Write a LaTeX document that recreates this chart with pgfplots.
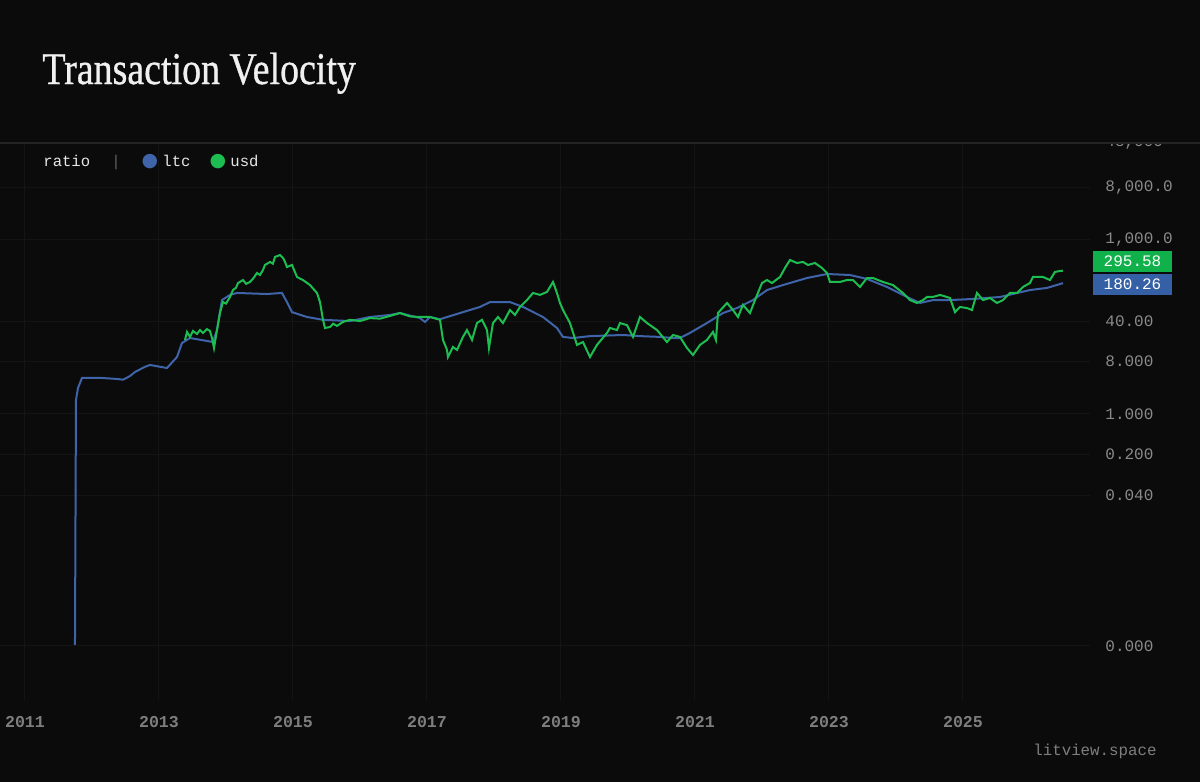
\documentclass[border=0pt]{standalone}
\usepackage{pgfplots}
\pgfplotsset{compat=1.18}
\usepackage{graphicx}
\usepackage{fontspec}
\setmainfont{Liberation Serif}
\newfontfamily\titlefont{Liberation Serif}[FakeBold=0.8]
\newfontfamily\mono{Liberation Mono}
\newfontfamily\dejavu{DejaVu Sans}
\definecolor{bg}{HTML}{0B0B0B}
\definecolor{gridc}{HTML}{141414}
\definecolor{topline}{HTML}{242424}
\definecolor{ltc}{HTML}{3F64A9}
\definecolor{usd}{HTML}{1DBE51}
\definecolor{gbox}{HTML}{10B14A}
\definecolor{bbox}{HTML}{3560A6}
\definecolor{ylab}{HTML}{8A8A8A}
\definecolor{xlab}{HTML}{7E7E7E}
\definecolor{titlec}{HTML}{F0F0F0}
\definecolor{legc}{HTML}{E6E6E6}
\begin{document}
\begin{tikzpicture}
\begin{scope}[x=0.5pt,y=-0.5pt]
\fill[bg] (0,0) rectangle (1200,782);
\end{scope}
\begin{axis}[
  at={(0pt,-71.1pt)}, anchor=north west,
  scale only axis, width=545pt, height=278.9pt,
  xmin=2010.627, xmax=2026.896,
  ymode=log, ymin=1.17e-5, ymax=48500,
  axis line style={draw=none},
  major tick length=0pt,
  tick style={draw=none},
  xtick={2011,2013,2015,2017,2019,2021,2023,2025},
  xticklabels={2011,2013,2015,2017,2019,2021,2023,2025},
  ytick={48000,8000,1000,40,8,1,0.2,0.04,0.0001},
  yticklabels={{48,000},{8,000.0},{1,000.0},{40.00},{8.000},{1.000},{0.200},{0.040},{0.000}},
  yticklabel pos=right,
  grid=major,
  major grid style={color=gridc, line width=0.5pt},
  xticklabel style={font=\mono\bfseries\fontsize{8.3}{10}\selectfont, text=xlab, anchor=base, inner sep=0pt, yshift=-13.5pt},
  yticklabel style={font=\mono\fontsize{8}{10}\selectfont, text=ylab, anchor=west, inner sep=0pt, xshift=7.5pt},
]
\addplot[color=ltc, line width=1pt] table {
2011.746 0.000104
2011.761 1.74
2011.791 2.8
2011.851 4.2
2012.119 4.2
2012.388 4.0
2012.463 3.9
2012.567 4.5
2012.642 5.3
2012.791 6.5
2012.866 7.0
2013.119 6.2
2013.269 9.6
2013.343 16.7
2013.463 20.4
2013.806 17.4
2013.866 28
2013.940 92
2014.060 113
2014.164 122
2014.612 117
2014.836 122
2014.910 85
2014.985 57
2015.209 47
2015.448 42
2015.851 40
2016.149 47
2016.448 51
2016.597 55
2016.896 45
2016.970 38.6
2017.045 47
2017.194 43
2017.493 55
2017.791 70
2017.940 85
2018.239 85
2018.433 70
2018.731 47
2018.940 30.4
2019.030 21.3
2019.179 20.4
2019.433 22
2019.925 23
2020.179 22
2020.478 21.3
2020.672 20.4
2020.776 20.4
2020.925 25
2021.179 37
2021.418 55
2021.627 67
2021.866 92
2022.075 137
2022.313 167
2022.672 221
2022.970 259
2023.313 249
2023.567 213
2023.866 155
2024.164 104
2024.358 82
2024.552 92
2024.806 92
2025.134 96
2025.552 104
2026.000 137
2026.254 149
2026.493 180.26
};
\addplot[color=usd, line width=1pt] table {
2013.388 18.9
2013.418 26
2013.463 21.3
2013.507 27
2013.567 24
2013.612 28
2013.657 25
2013.716 29
2013.761 27
2013.791 20.4
2013.821 13.7
2013.866 28
2013.910 55
2013.955 85
2014.000 80
2014.060 104
2014.104 137
2014.150 150
2014.179 181
2014.254 204
2014.300 175
2014.358 189
2014.410 220
2014.463 270
2014.507 249
2014.550 300
2014.582 371
2014.657 418
2014.700 390
2014.731 509
2014.806 551
2014.851 490
2014.880 420
2014.910 342
2014.985 371
2015.060 230
2015.149 204
2015.254 167
2015.358 122
2015.403 85
2015.448 42
2015.478 30.4
2015.552 31.6
2015.600 36
2015.657 33
2015.746 38.6
2015.851 42
2016.000 40
2016.149 45
2016.300 44
2016.448 49
2016.597 55
2016.750 48
2016.896 47
2017.045 47
2017.194 42
2017.239 18.9
2017.299 12.7
2017.313 9.6
2017.388 14.3
2017.448 12.7
2017.537 21.3
2017.597 28
2017.672 18.9
2017.746 37
2017.821 42
2017.896 28
2017.925 13.7
2017.985 37
2018.060 47
2018.134 37
2018.239 62
2018.313 51
2018.388 70
2018.493 92
2018.582 122
2018.687 113
2018.791 127
2018.881 189
2018.940 122
2018.985 82
2019.030 62
2019.134 37
2019.239 15.5
2019.328 17.4
2019.433 9.6
2019.537 15.5
2019.687 25
2019.731 30.4
2019.836 28
2019.881 37
2019.985 34
2020.075 21.3
2020.179 47
2020.284 37
2020.433 28
2020.582 17.4
2020.672 23
2020.776 21.3
2020.881 13.7
2020.970 10.4
2021.075 15.5
2021.179 18.9
2021.269 26
2021.313 18.9
2021.343 55
2021.478 82
2021.567 62
2021.642 47
2021.716 76
2021.821 55
2021.896 92
2022.000 181
2022.075 204
2022.149 181
2022.269 230
2022.343 329
2022.418 452
2022.522 401
2022.612 418
2022.687 371
2022.791 401
2022.896 329
2022.970 270
2023.015 189
2023.164 189
2023.269 204
2023.358 204
2023.463 155
2023.567 221
2023.657 221
2023.806 189
2023.955 167
2024.104 122
2024.209 92
2024.313 82
2024.403 92
2024.463 104
2024.552 104
2024.657 113
2024.806 100
2024.881 57
2024.955 70
2025.060 67
2025.134 62
2025.209 122
2025.299 92
2025.403 100
2025.507 82
2025.597 92
2025.701 122
2025.806 122
2025.896 155
2026.000 181
2026.045 230
2026.194 230
2026.299 204
2026.373 281
2026.448 292
2026.493 295.58
};
\end{axis}
\begin{scope}[x=0.5pt,y=-0.5pt]
\fill[bg] (0,0) rectangle (1200,142.4);
\draw[topline, line width=0.6pt] (0,143) -- (1200,143);
\node[anchor=base west, inner sep=0pt, text=titlec] at (42,84)
  {\scalebox{0.835}[1]{\titlefont\fontsize{22.7}{24}\selectfont Transaction Velocity}};
\node[anchor=base west, inner sep=0pt, text=legc, font=\mono\fontsize{7.8}{9}\selectfont] at (43,166) {ratio};
\node[anchor=base, inner sep=0pt, text=ylab!70!black, font=\mono\fontsize{7.8}{9}\selectfont] at (116,166) {|};
\node[inner sep=0pt, text=ltc, font=\dejavu\fontsize{9.5}{10}\selectfont] at (150,162) {●};
\node[anchor=base west, inner sep=0pt, text=legc, font=\mono\fontsize{7.8}{9}\selectfont] at (162,166) {ltc};
\node[inner sep=0pt, text=usd, font=\dejavu\fontsize{9.5}{10}\selectfont] at (218,162) {●};
\node[anchor=base west, inner sep=0pt, text=legc, font=\mono\fontsize{7.8}{9}\selectfont] at (230,166) {usd};
\node[fill=gbox, text=white, minimum width=39.5pt, minimum height=10.5pt, inner sep=0pt, font=\mono\fontsize{8}{10}\selectfont] at (1132.5,261.5) {295.58};
\node[fill=bbox, text=white, minimum width=39.5pt, minimum height=10.5pt, inner sep=0pt, font=\mono\fontsize{8}{10}\selectfont] at (1132.5,284) {180.26};
\node[anchor=base east, inner sep=0pt, text=xlab, font=\mono\fontsize{7.9}{9}\selectfont] at (1157,755) {litview.space};
\end{scope}
\pgfresetboundingbox
\path[use as bounding box] (0pt,0pt) rectangle (600pt,-391pt);
\end{tikzpicture}
\end{document}
